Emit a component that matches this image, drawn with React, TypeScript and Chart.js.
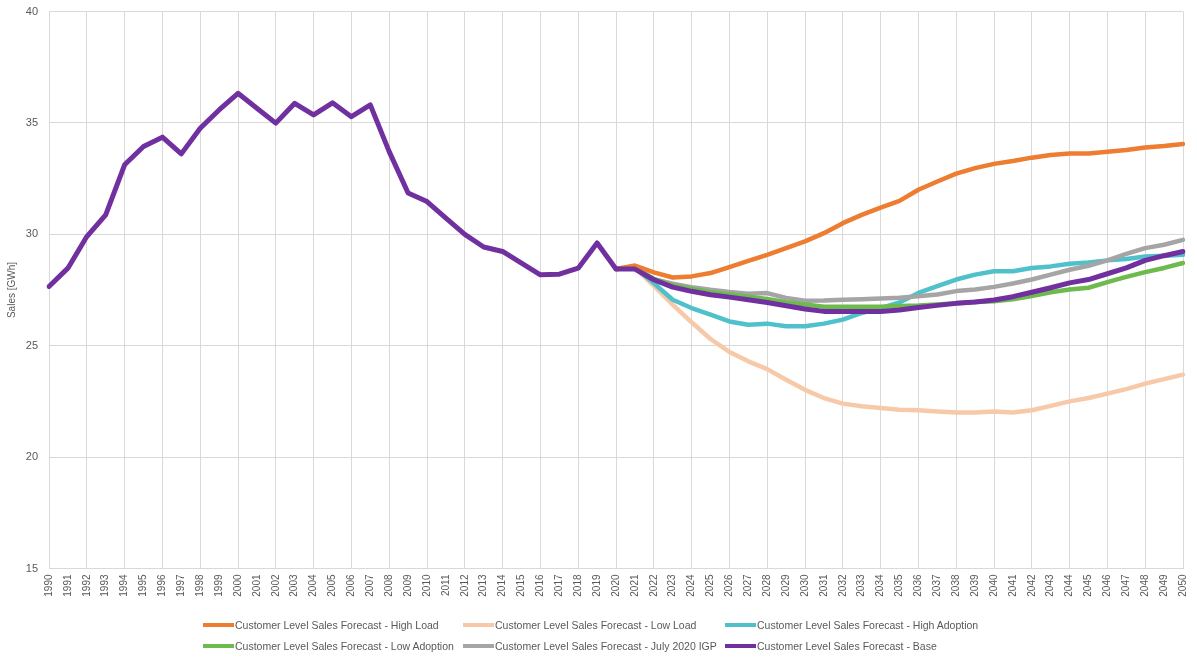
import React, { useEffect, useRef } from "react";
import { Chart, registerables } from "chart.js";

Chart.register(...registerables);

const years = [
  "1990", "1991", "1992", "1993", "1994", "1995", "1996", "1997", "1998", "1999",
  "2000", "2001", "2002", "2003", "2004", "2005", "2006", "2007", "2008", "2009",
  "2010", "2011", "2012", "2013", "2014", "2015", "2016", "2017", "2018", "2019",
  "2020", "2021", "2022", "2023", "2024", "2025", "2026", "2027", "2028", "2029",
  "2030", "2031", "2032", "2033", "2034", "2035", "2036", "2037", "2038", "2039",
  "2040", "2041", "2042", "2043", "2044", "2045", "2046", "2047", "2048", "2049",
  "2050",
];

// Customer Level Sales Forecast - Base (history 1990-2021 + forecast)
const baseSales = [
  27.66, 28.48, 29.9, 30.87, 33.12, 33.94, 34.36, 33.61, 34.76, 35.58,
  36.33, 35.66, 34.99, 35.88, 35.36, 35.9, 35.28, 35.81, 33.71, 31.85,
  31.47, 30.73, 30.0, 29.43, 29.23, 28.71, 28.18, 28.21, 28.48, 29.61,
  28.44, 28.44, 27.96, 27.63, 27.44, 27.29, 27.18, 27.06, 26.94, 26.79,
  26.65, 26.54, 26.54, 26.54, 26.54, 26.6, 26.71, 26.81, 26.9, 26.96,
  27.05, 27.2, 27.4, 27.6, 27.82, 27.97, 28.23, 28.49, 28.83, 29.04,
  29.23,
];

const forecastYears = [
  "2020", "2021", "2022", "2023", "2024", "2025", "2026", "2027", "2028", "2029",
  "2030", "2031", "2032", "2033", "2034", "2035", "2036", "2037", "2038", "2039",
  "2040", "2041", "2042", "2043", "2044", "2045", "2046", "2047", "2048", "2049",
  "2050",
];

const highLoad = [
  28.44, 28.6, 28.29, 28.06, 28.11, 28.26, 28.53, 28.81, 29.08, 29.38,
  29.68, 30.05, 30.5, 30.87, 31.2, 31.5, 32.0, 32.37, 32.72, 32.97,
  33.16, 33.29, 33.44, 33.56, 33.63, 33.63, 33.71, 33.78, 33.9, 33.96,
  34.05,
];

const lowLoad = [
  28.44, 28.5, 27.69, 26.84, 26.05, 25.3, 24.72, 24.3, 23.95, 23.47,
  23.02, 22.65, 22.4, 22.28, 22.2, 22.13, 22.1, 22.05, 22.0, 22.0,
  22.05, 22.0, 22.1, 22.3, 22.5, 22.65, 22.85, 23.05, 23.3, 23.5,
  23.7,
];

const highAdoption = [
  28.44, 28.5, 27.81, 27.06, 26.69, 26.39, 26.09, 25.94, 25.99, 25.87,
  25.87, 25.99, 26.17, 26.47, 26.69, 26.94, 27.37, 27.67, 27.97, 28.19,
  28.34, 28.34, 28.49, 28.56, 28.68, 28.74, 28.83, 28.89, 29.0, 29.04,
  29.08,
];

const lowAdoption = [
  28.44, 28.5, 28.0, 27.7, 27.55, 27.4, 27.3, 27.2, 27.1, 26.95,
  26.85, 26.75, 26.75, 26.75, 26.75, 26.78, 26.8, 26.85, 26.9, 26.96,
  27.0, 27.08, 27.23, 27.4, 27.52, 27.6, 27.85, 28.09, 28.3, 28.49,
  28.71,
];

const july2020IGP = [
  28.44, 28.5, 27.99, 27.78, 27.63, 27.51, 27.41, 27.33, 27.36, 27.14,
  27.02, 27.03, 27.06, 27.09, 27.12, 27.15, 27.22, 27.3, 27.45, 27.52,
  27.64, 27.79, 27.97, 28.19, 28.41, 28.59, 28.83, 29.12, 29.38, 29.53,
  29.75,
];

const yTicks = [15, 20, 25, 30, 35, 40];

const FONT = "'Liberation Sans', Arial, sans-serif";
const TEXT = "#595959";

const legendItems = [
  { label: "Customer Level Sales Forecast - High Load", color: "#ED7D31", left: 203, top: 618 },
  { label: "Customer Level Sales Forecast - Low Load", color: "#F8C9A8", left: 463, top: 618 },
  { label: "Customer Level Sales Forecast - High Adoption", color: "#4FC1CA", left: 725, top: 618 },
  { label: "Customer Level Sales Forecast - Low Adoption", color: "#6CBB4C", left: 203, top: 639 },
  { label: "Customer Level Sales Forecast - July 2020 IGP", color: "#A5A5A5", left: 463, top: 639 },
  { label: "Customer Level Sales Forecast - Base", color: "#7030A0", left: 725, top: 639 },
];

function toPoints(values: number[]) {
  return forecastYears.map((yr, i) => ({ x: yr, y: values[i] }));
}

export default function App() {
  const ref = useRef<HTMLCanvasElement | null>(null);

  useEffect(() => {
    if (!ref.current) return;
    const common = {
      borderWidth: 4.5,
      pointRadius: 0,
      tension: 0,
      borderJoinStyle: "round" as const,
      borderCapStyle: "round" as const,
      fill: false,
    };
    const chart = new Chart(ref.current, {
      type: "line",
      data: {
        labels: years,
        datasets: [
          { ...common, label: legendItems[0].label, data: toPoints(highLoad), borderColor: legendItems[0].color, order: 2 },
          { ...common, label: legendItems[1].label, data: toPoints(lowLoad), borderColor: legendItems[1].color, order: 6 },
          { ...common, label: legendItems[2].label, data: toPoints(highAdoption), borderColor: legendItems[2].color, order: 5 },
          { ...common, label: legendItems[3].label, data: toPoints(lowAdoption), borderColor: legendItems[3].color, order: 3 },
          { ...common, label: legendItems[4].label, data: toPoints(july2020IGP), borderColor: legendItems[4].color, order: 4 },
          { ...common, borderWidth: 5, label: legendItems[5].label, data: baseSales, borderColor: legendItems[5].color, order: 1 },
        ] as any,
      },
      options: {
        responsive: false,
        animation: false,
        devicePixelRatio: 1,
        layout: { autoPadding: false, padding: { left: 0, right: 14, top: 11.5, bottom: 0 } },
        plugins: {
          legend: { display: false },
          tooltip: { enabled: false },
        },
        scales: {
          x: {
            type: "category",
            offset: false,
            grid: {
              color: (ctx: any) => (ctx.index % 2 === 0 ? "#D9D9D9" : "rgba(0,0,0,0)"),
              drawTicks: false,
              lineWidth: 1,
            },
            border: { display: false },
            ticks: {
              autoSkip: false,
              maxRotation: 90,
              minRotation: 90,
              padding: 6,
              color: TEXT,
              font: { family: FONT, size: 10 },
            },
            afterFit: (s: any) => {
              s.height = 88.5;
              s.paddingLeft = 0;
              s.paddingRight = 0;
            },
          },
          y: {
            min: yTicks[0],
            max: yTicks[yTicks.length - 1],
            afterBuildTicks: (s: any) => {
              s.ticks = yTicks.map((v) => ({ value: v }));
            },
            grid: { color: "#D9D9D9", drawTicks: false, lineWidth: 1 },
            border: { display: false },
            ticks: {
              padding: 11,
              color: TEXT,
              font: { family: FONT, size: 11 },
            },
            title: {
              display: true,
              text: "Sales [GWh]",
              color: TEXT,
              font: { family: FONT, size: 10 },
              padding: { top: 6, bottom: 2 },
            },
            afterFit: (s: any) => {
              s.width = 49;
              s.paddingTop = 0;
              s.paddingBottom = 0;
            },
          },
        },
      } as any,
    });
    return () => chart.destroy();
  }, []);

  return (
    <div style={{ position: "absolute", left: 0, top: 0, width: 1197, height: 657, background: "#fff" }}>
      <canvas ref={ref} width={1197} height={657} style={{ position: "absolute", left: 0, top: 0 }} />
      {legendItems.map((item) => (
        <div
          key={item.label}
          style={{
            position: "absolute",
            left: item.left,
            top: item.top,
            height: 13,
            display: "flex",
            alignItems: "center",
            fontFamily: FONT,
            fontSize: 10.5,
            color: TEXT,
            whiteSpace: "nowrap",
          }}
        >
          <span style={{ display: "inline-block", width: 31, height: 4, background: item.color, marginRight: 1 }} />
          <span>{item.label}</span>
        </div>
      ))}
    </div>
  );
}
